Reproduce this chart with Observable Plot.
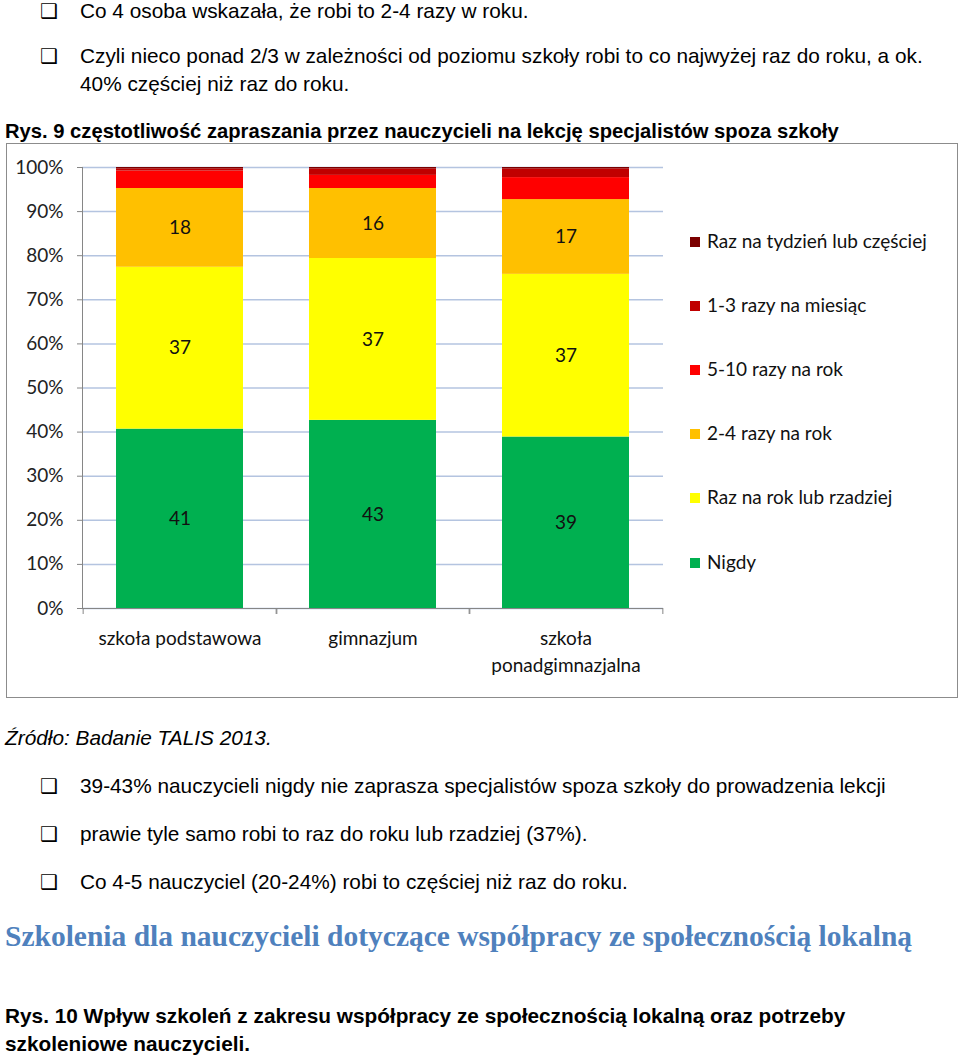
<!DOCTYPE html>
<html>
<head>
<meta charset="utf-8">
<script src="https://cdn.jsdelivr.net/npm/d3@7"></script>
<script src="https://cdn.jsdelivr.net/npm/@observablehq/plot@0.6"></script>
<style>
  html, body { margin: 0; padding: 0; background: #fff; }
  #page { position: relative; width: 960px; height: 1056px; overflow: hidden; font-family: "Liberation Sans", Arial, sans-serif; color: #000; }
  .t { position: absolute; white-space: nowrap; font-size: 20.8px; line-height: 24px; }
  .box { position: absolute; left: 6px; top: 143px; width: 950px; height: 553px; border: 1.5px solid #8c8c8c; }
  .chk { position: absolute; font-family: "DejaVu Sans", sans-serif; font-size: 20px; line-height: 24px; }
  #chart { position: absolute; left: 6px; top: 143px; }
  .leg { position: absolute; font-family: Lato, "Open Sans", sans-serif; font-size: 19px; line-height: 22px; white-space: nowrap; color: #111; }
  .sw { position: absolute; width: 10px; height: 10px; }
  h2 { position: absolute; margin: 0; font-family: "Liberation Serif", serif; font-weight: bold; color: #4f81bd; font-size: 29.5px; line-height: 34px; white-space: nowrap; }
</style>
</head>
<body>
<div id="page">
  <div class="chk" style="left:40px;top:0px;line-height:22px">❑</div>
  <div class="t" style="left:80px;top:0px;line-height:22px">Co 4 osoba wskazała, że robi to 2-4 razy w roku.</div>
  <div class="chk" style="left:40px;top:44px">❑</div>
  <div class="t" style="left:80px;top:44px">Czyli nieco ponad 2/3 w zależności od poziomu szkoły robi to co najwyżej raz do roku, a ok.</div>
  <div class="t" style="left:80px;top:72px">40% częściej niż raz do roku.</div>
  <div class="t" style="left:5px;top:119px;font-weight:bold;font-size:20.2px">Rys. 9 częstotliwość zapraszania przez nauczycieli na lekcję specjalistów spoza szkoły</div>
  <div class="box"></div>
  <div id="chart"></div>
  <div id="legend"></div>
  <div class="t" style="left:5px;top:726px;font-style:italic">Źródło: Badanie TALIS 2013.</div>
  <div class="chk" style="left:40px;top:774px">❑</div>
  <div class="t" style="left:80px;top:774px">39-43% nauczycieli nigdy nie zaprasza specjalistów spoza szkoły do prowadzenia lekcji</div>
  <div class="chk" style="left:40px;top:822px">❑</div>
  <div class="t" style="left:80px;top:822px">prawie tyle samo robi to raz do roku lub rzadziej (37%).</div>
  <div class="chk" style="left:40px;top:870px">❑</div>
  <div class="t" style="left:80px;top:870px">Co 4-5 nauczyciel (20-24%) robi to częściej niż raz do roku.</div>
  <h2 style="left:5px;top:919px">Szkolenia dla nauczycieli dotyczące współpracy ze społecznością lokalną</h2>
  <div class="t" style="left:5px;top:1004px;font-weight:bold">Rys. 10 Wpływ szkoleń z zakresu współpracy ze społecznością lokalną oraz potrzeby</div>
  <div class="t" style="left:5px;top:1032px;font-weight:bold">szkoleniowe nauczycieli.</div>
</div>
<script>
// Data
const schools = ["szkoła podstawowa", "gimnazjum", "szkoła ponadgimnazjalna"];
const seriesNames = ["Nigdy", "Raz na rok lub rzadziej", "2-4 razy na rok", "5-10 razy na rok", "1-3 razy na miesiąc", "Raz na tydzień lub częściej"];
const seriesColors = ["#00b050", "#ffff00", "#ffc000", "#ff0000", "#c00000", "#7b0000"];
const nigdy = [41, 43, 39];
const razNaRok = [37, 37, 37];
const dwaCztery = [18, 16, 17];
const piecDziesiec = [4, 3, 5];
const jedenTrzy = [0.5, 1.5, 2];
const tydzien = [0.3, 0.3, 0.3];
const labelled = ["Nigdy", "Raz na rok lub rzadziej", "2-4 razy na rok"];
const yTicks = [0, 0.1, 0.2, 0.3, 0.4, 0.5, 0.6, 0.7, 0.8, 0.9, 1];

const seriesValues = [nigdy, razNaRok, dwaCztery, piecDziesiec, jedenTrzy, tydzien];
const rows = [];
schools.forEach((s, i) => {
  seriesNames.forEach((name, j) => {
    rows.push({school: s, series: name, value: seriesValues[j][i]});
  });
});

const chart = Plot.plot({
  width: 952,
  height: 555,
  marginLeft: 76,
  marginRight: 295,
  marginTop: 24,
  marginBottom: 90,
  style: {fontFamily: "Lato, 'Open Sans', sans-serif", fontSize: "19px", background: "transparent", color: "#111"},
  x: {domain: schools, paddingInner: 0.34, paddingOuter: 0.17, label: null},
  y: {domain: [0, 1], label: null},
  color: {domain: seriesNames, range: seriesColors},
  marks: [
    Plot.gridY(yTicks, {stroke: "#b4c4e0", strokeOpacity: 1, strokeWidth: 1.5}),
    Plot.barY(rows, Plot.stackY({offset: "normalize", order: null}, {x: "school", y: "value", fill: "series"})),
    Plot.text(rows, Plot.stackY({offset: "normalize", order: null}, {
      x: "school", y: "value",
      text: d => labelled.includes(d.series) ? String(d.value) : "",
      fill: "#111", fontSize: 19
    })),
    Plot.axisY(yTicks, {tickFormat: d => Math.round(d * 100) + "%", tickSize: 5, tickPadding: 14, stroke: "#868686", fill: "#222", fontSize: 19}),
    Plot.axisX({tickSize: 0, tickPadding: 18, lineHeight: 1.4, fontSize: 19, fill: "#111",
      tickFormat: d => d === "szkoła ponadgimnazjalna" ? "szkoła\nponadgimnazjalna" : d}),
    Plot.axisX({tickSize: 6, text: null, dx: -96.85, stroke: "#868686"}),
    Plot.axisX({tickSize: 6, text: null, dx: 96.85, stroke: "#868686"}),
    Plot.frame({anchor: "left", stroke: "#868686"}),
    Plot.ruleY([0], {stroke: "#868686", strokeWidth: 1.2})
  ]
});
document.getElementById("chart").appendChild(chart);

// Legend (HTML, inside the chart box)
const legend = document.getElementById("legend");
const legendOrder = seriesNames.slice().reverse();
const legendY = [242, 306, 370, 434, 498, 563];
legendOrder.forEach((name, i) => {
  const c = seriesColors[seriesNames.indexOf(name)];
  const sw = document.createElement("div");
  sw.className = "sw";
  sw.style.left = "690px";
  sw.style.top = (legendY[i] - 5) + "px";
  sw.style.background = c;
  legend.appendChild(sw);
  const t = document.createElement("div");
  t.className = "leg";
  t.style.left = "707px";
  t.style.top = (legendY[i] - 12) + "px";
  t.textContent = name;
  legend.appendChild(t);
});
</script>
</body>
</html>
